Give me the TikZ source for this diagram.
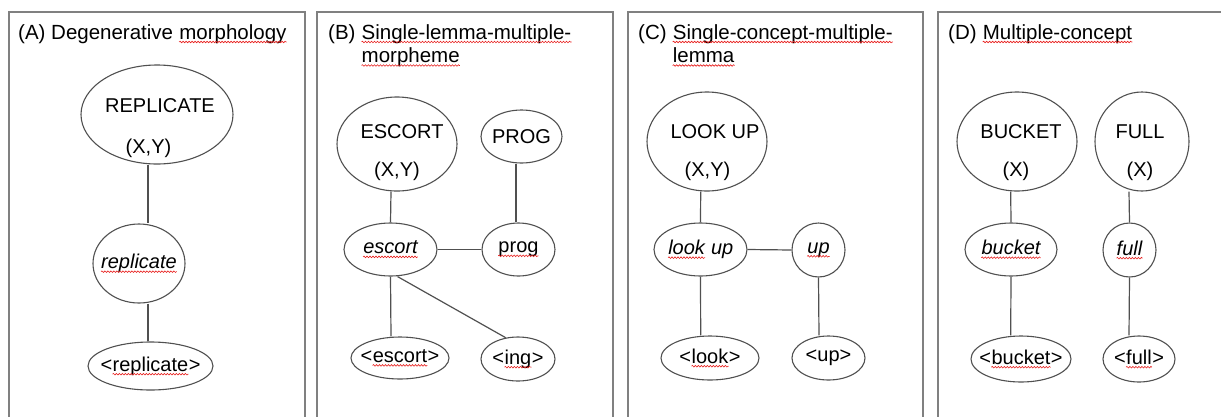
\documentclass[tikz,border=0pt]{standalone}
\usepackage{fontspec}
\setmainfont{Liberation Sans}
\usetikzlibrary{shapes.geometric,decorations.pathmorphing}

\definecolor{framegray}{HTML}{808080}
\definecolor{linegray}{HTML}{505050}
\definecolor{spellred}{HTML}{E8201E}

\tikzset{
  panel/.style={draw=framegray, line width=1.6pt},
  concept/.style={ellipse, draw=linegray, line width=1.1pt, inner sep=0pt, font=\nodefont},
  dims/.style 2 args={minimum width=#1pt, minimum height=#2pt},
  link/.style={draw=linegray, line width=1.2pt},
  word/.style={inner sep=0pt, font=\nodefont},
  heading/.style={inner sep=0pt, anchor=base west, font=\headfont},
  spellwave/.style={draw=spellred, line width=0.6pt,
    decorate, decoration={snake, amplitude=0.8pt, segment length=3pt}},
  plainbox/.style={shape=rectangle, draw=none, fill=none, inner sep=0pt,
    minimum width=0pt, minimum height=0pt, anchor=base, font=}
}

% red wavy spell-check underline
\newcommand\spell[1]{\tikz[baseline=(sw.base)]{%
  \node[plainbox] (sw) {#1};
  \draw[spellwave] ([yshift=-3pt]sw.base west) -- ([yshift=-3pt]sw.base east);}}
\newcommand\nodefont{\fontsize{20}{40}\selectfont}
\newcommand\headfont{\fontsize{20.5}{23.5}\selectfont}

\begin{document}
\begin{tikzpicture}[x=1pt, y=-1pt]
\clip (0,0) rectangle (1221,416);

% panel frames (open at the bottom)
\draw[panel] (9,12) rectangle (305,440);
\draw[panel] (317,12) rectangle (613,440);
\draw[panel] (628,12) rectangle (923,440);
\draw[panel] (938,12) rectangle (1240,440);

% headings
\node[heading] (headA) at (18,39) {(A) Degenerative \spell{morphology}};
\node[heading] (headB) at (328,39) {(B) \begin{tabular}[t]{@{}l@{}}\spell{Single-lemma-multiple-}\\\spell{morpheme}\end{tabular}};
\node[heading] (headC) at (638,39) {(C) \begin{tabular}[t]{@{}l@{}}\spell{Single-concept-multiple-}\\\spell{lemma}\end{tabular}};
\node[heading] (headD) at (948,39) {(D) \spell{Multiple-concept}};

% ---------- (A) ----------
\node[concept, dims={152}{99}] (repC) at (157,114.5) {};
\node[word] (repC-name) at (160,106) {REPLICATE};
\node[word] (repC-args) at (148.5,148) {(X,Y)};
\node[concept, dims={92}{79}] (repL) at (139,263.5) {\makebox[0pt]{\textit{\spell{replicate}}}};
\node[concept, dims={125}{48}] (repM) at (150.5,366) {\makebox[0pt]{<\spell{replicate}>}};
\draw[link] ([xshift=-9pt]repC.south) -- ([xshift=9pt]repL.north);
\draw[link] ([xshift=9pt]repL.south) -- ([xshift=-2.5pt]repM.north);

% ---------- (B) ----------
\node[concept, dims={120}{94}] (escC) at (397,144) {};
\node[word] (escC-name) at (402,132) {ESCORT};
\node[word] (escC-args) at (397,171) {(X,Y)};
\node[concept, dims={81}{53}] (progC) at (521.5,136.5) {\makebox[0pt]{PROG}};
\node[concept, dims={93}{53}] (escL) at (390.5,249.5) {\makebox[0pt]{\textit{\spell{escort}}}};
\node[concept, dims={73}{53}] (progL) at (518.5,249.5) {\makebox[0pt]{\spell{prog}}};
\node[concept, dims={98}{42}] (escM) at (400,358) {\makebox[0pt]{<\spell{escort}>}};
\node[concept, dims={74}{44}] (ingM) at (518,359) {\makebox[0pt]{<\spell{ing}>}};
\draw[link] ([xshift=-6pt]escC.south) -- (escL.north);
\draw[link] ([xshift=-5.5pt]progC.south) -- ([xshift=-2.5pt]progL.north);
\draw[link] (escL.east) -- (progL.west);
\draw[link] (escL.south) -- ([xshift=-9pt]escM.north);
\draw[link] ([xshift=7pt]escL.south) -- (ingM.120);

% ---------- (C) ----------
\node[concept, dims={120}{99}] (lookC) at (707,141.5) {};
\node[word] (lookC-name) at (715,132) {LOOK UP};
\node[word] (lookC-args) at (707.5,171) {(X,Y)};
\node[concept, dims={93}{53}] (lookL) at (700.5,249.5) {\makebox[0pt]{\textit{\spell{look} up}}};
\node[concept, dims={53}{54}] (upL) at (818.5,250) {\makebox[0pt]{\textit{\spell{up}}}};
\node[concept, dims={98}{44}] (lookM) at (710,358) {\makebox[0pt]{<\spell{look}>}};
\node[concept, dims={73}{44}] (upM) at (828.5,358) {\makebox[0pt]{<up>}};
\draw[link] ([xshift=-6.3pt]lookC.south) -- (lookL.north);
\draw[link] (lookL.east) -- (upL.west);
\draw[link] (lookL.south) -- ([xshift=-9.3pt]lookM.north);
\draw[link] (upL.south) -- ([xshift=-9.5pt]upM.north);

% ---------- (D) ----------
\node[concept, dims={120}{99}] (bucC) at (1017,141.5) {};
\node[word] (bucC-name) at (1021,132) {BUCKET};
\node[word] (bucC-args) at (1016,171) {(X)};
\node[concept, dims={94}{99}] (fullC) at (1142,141.5) {};
\node[word] (fullC-name) at (1140,132) {FULL};
\node[word] (fullC-args) at (1140,171) {(X)};
\node[concept, dims={92}{53}] (bucL) at (1011,249.5) {\makebox[0pt]{\textit{\spell{bucket}}}};
\node[concept, dims={53}{54}] (fullL) at (1129.5,250) {\makebox[0pt]{\textit{\spell{full}}}};
\node[concept, dims={100}{46}] (bucM) at (1021,359) {\makebox[0pt]{<\spell{bucket}>}};
\node[concept, dims={72}{46}] (fullM) at (1139,359) {\makebox[0pt]{<\spell{full}>}};
\draw[link] ([xshift=-6.3pt]bucC.south) -- (bucL.north);
\draw[link] ([xshift=-13pt]fullC.south) -- (fullL.north);
\draw[link] (bucL.south) -- ([xshift=-10.3pt]bucM.north);
\draw[link] (fullL.south) -- ([xshift=-10pt]fullM.north);
\end{tikzpicture}
\end{document}
